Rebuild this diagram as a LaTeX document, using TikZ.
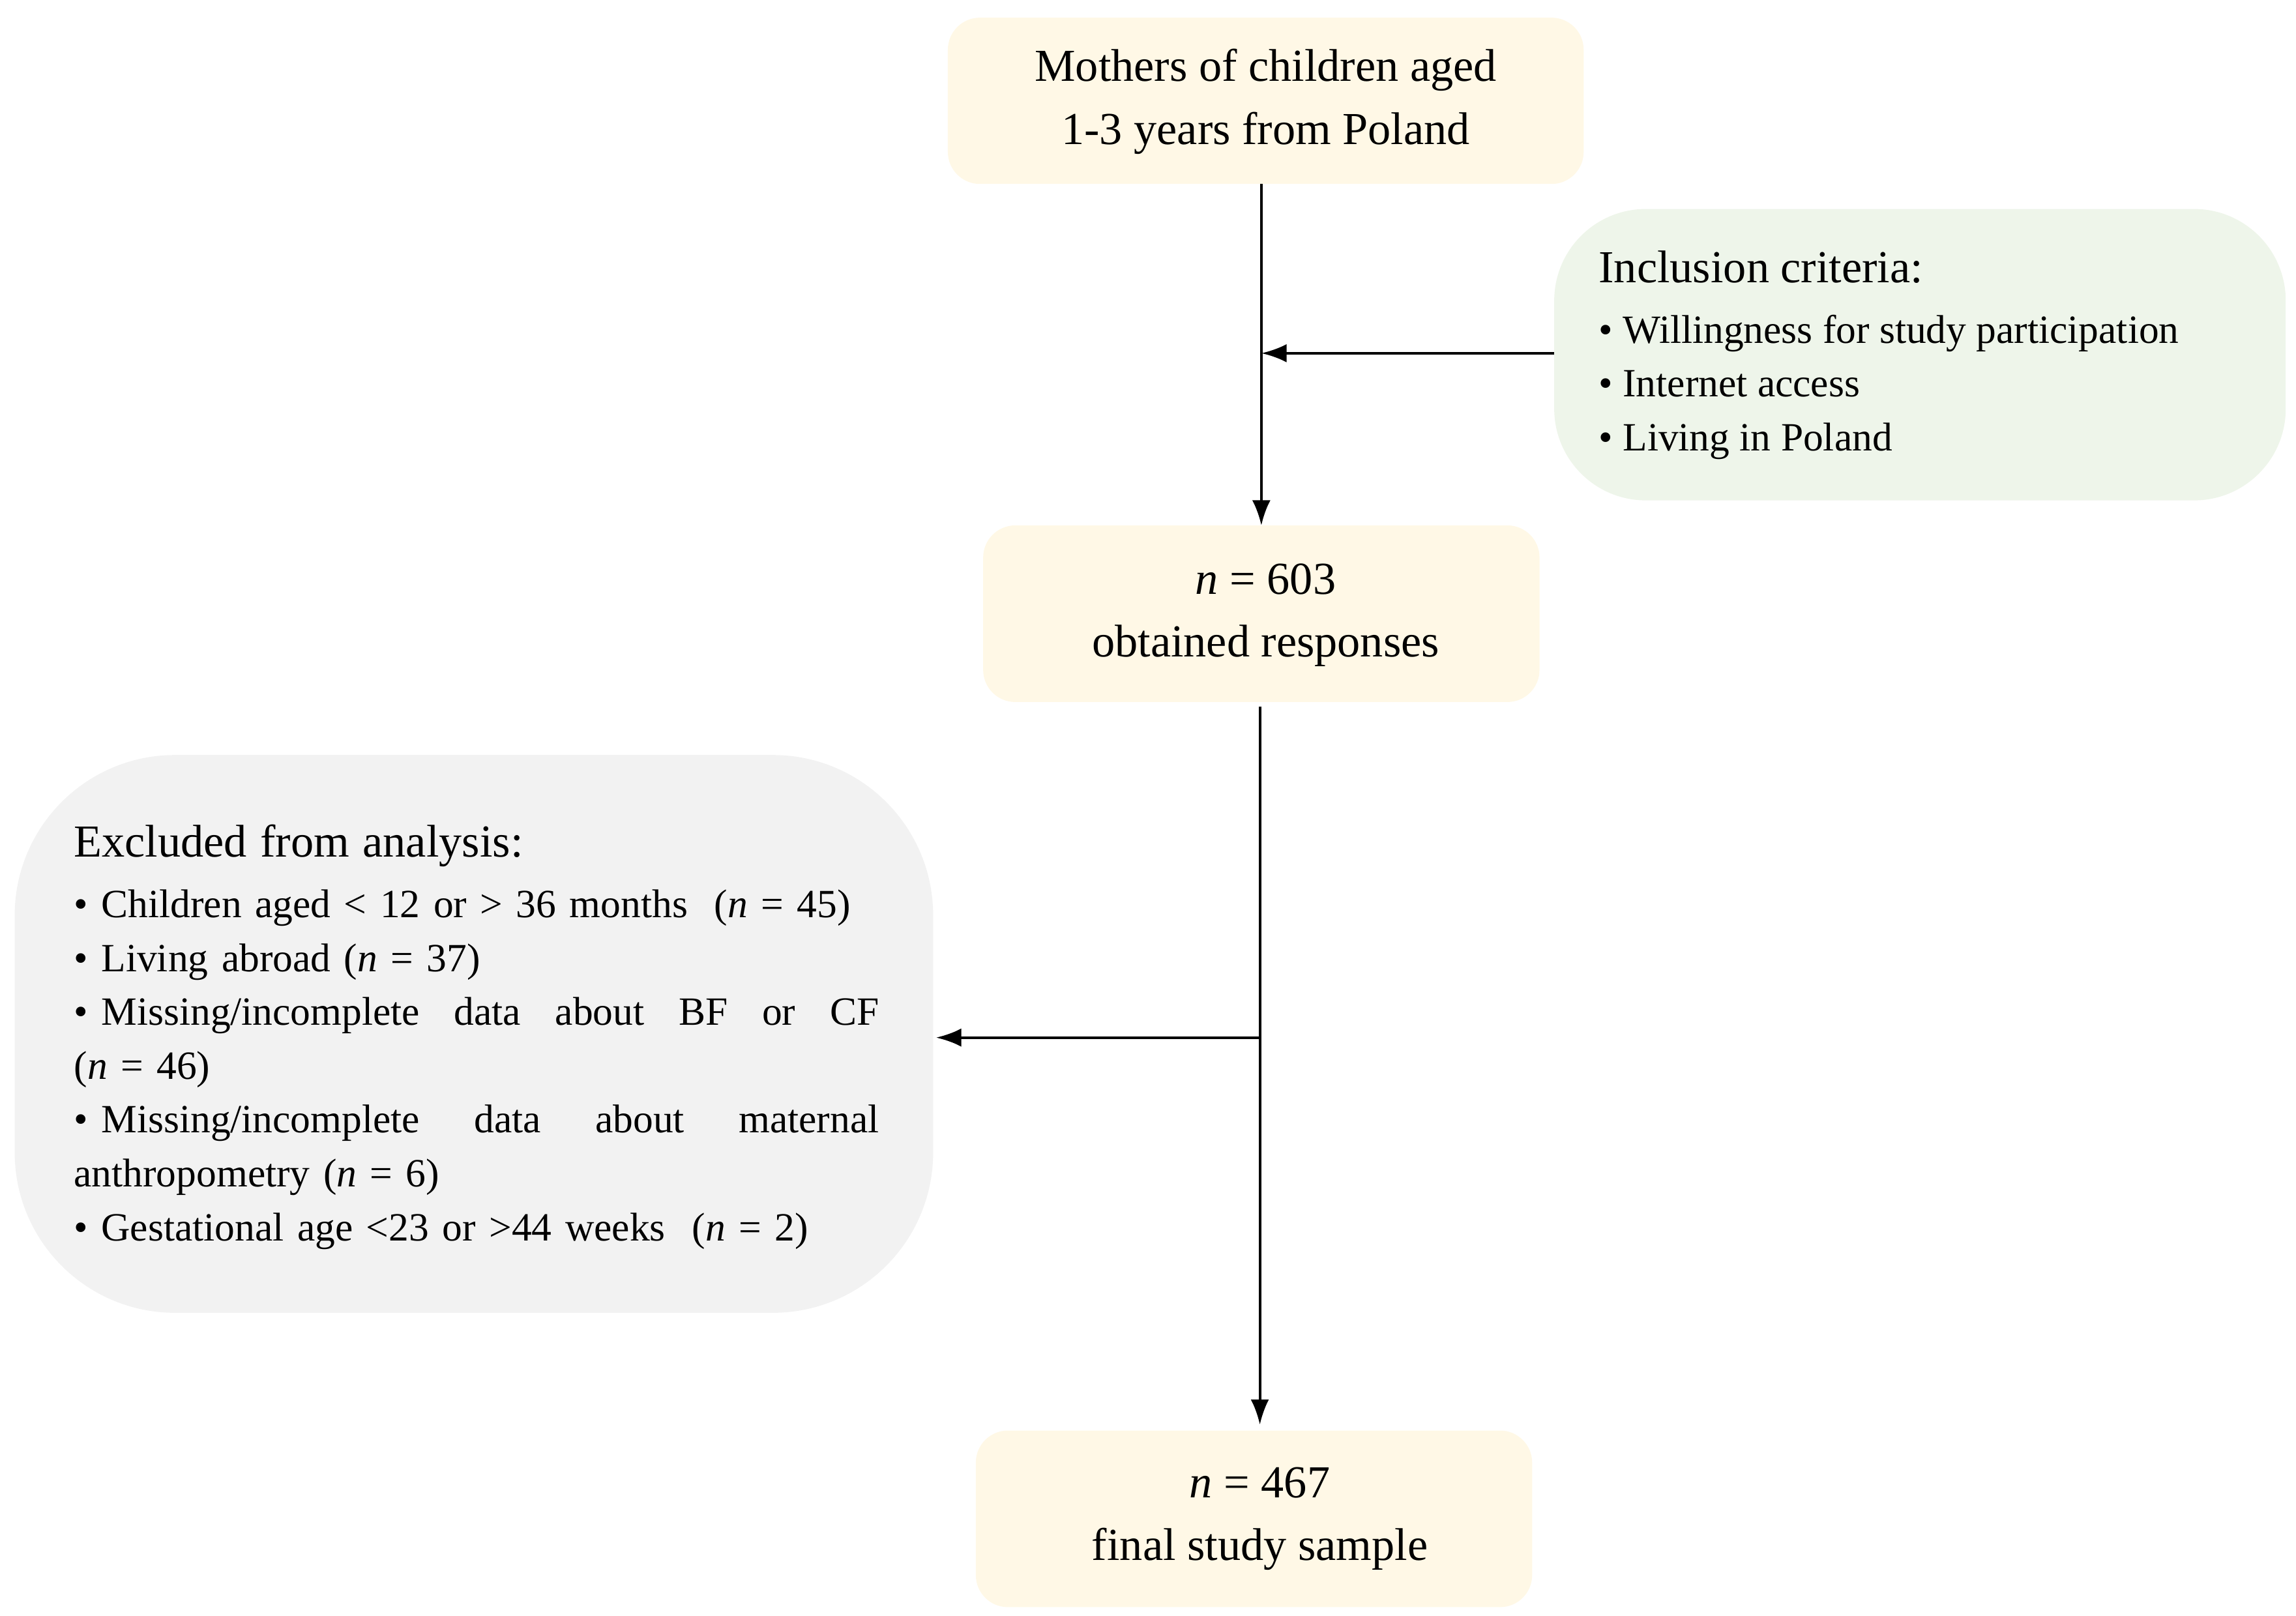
\documentclass[tikz,border=0pt]{standalone}
\usepackage{fontspec}
\setmainfont{Liberation Serif}
\usetikzlibrary{arrows.meta}
\definecolor{cream}{HTML}{FFF8E6}
\definecolor{lgreen}{HTML}{EEF5EA}
\definecolor{lgrey}{HTML}{F2F2F2}
\begin{document}
\begin{tikzpicture}[x=0.02258cm,y=-0.02258cm,
  box/.style={draw=none,rounded corners=12pt},
  arr/.style={-{Latex[length=11pt,width=8pt]},line width=1.2pt},
  main/.style={align=center,font=\fontsize{20}{27.5}\selectfont},
  lst/.style={align=left,anchor=north west,font=\fontsize{17.5}{23.5}\selectfont,inner sep=0pt}]
\useasboundingbox (0,0) rectangle (1560,1098);
\fill[cream,rounded corners=14pt] (644,12) rectangle (1076,125);
\node[main] (top) at (860,69) {Mothers of children aged\\1-3 years from Poland};
\coordinate (topb) at (857,125);
\fill[lgreen,rounded corners=40pt] (1056,142) rectangle (1553,340);
\coordinate (inc) at (1056,240);
\node[lst] (inctext) at (1086,170) {{\fontsize{20}{23.5}\selectfont Inclusion criteria:}\\[3pt]
\textbullet\ Willingness for study participation\\
\textbullet\ Internet access\\
\textbullet\ Living in Poland};
\fill[cream,rounded corners=14pt] (668,357) rectangle (1046,477);
\node[main] (n603) at (860,418) {\textit{n} = 603\\obtained responses};
\coordinate (n603t) at (857,357);
\coordinate (n603b) at (856,480);
\fill[lgrey,rounded corners=70pt] (10,513) rectangle (634,892);
\coordinate (exc) at (636,705);
\node[lst,text width=12.35cm] (exctext) at (50,560) {{\fontsize{20}{23.5}\selectfont Excluded from analysis:}\\[3pt]
\textbullet\ Children aged < 12 or > 36 months \ (\textit{n} = 45)\\
\textbullet\ Living abroad (\textit{n} = 37)\\
\hbox to\linewidth{\textbullet\ Missing/incomplete\hfill data\hfill about\hfill BF\hfill or\hfill CF}
(\textit{n} = 46)\\
\hbox to\linewidth{\textbullet\ Missing/incomplete\hfill data\hfill about\hfill maternal}
anthropometry (\textit{n} = 6)\\
\textbullet\ Gestational age <23 or >44 weeks \ (\textit{n} = 2)};
\fill[cream,rounded corners=14pt] (663,972) rectangle (1041,1092);
\node[main] (final) at (856,1032) {\textit{n} = 467\\final study sample};
\coordinate (finalt) at (856,968);
\draw[arr] (topb) -- (n603t);
\draw[arr] (inc) -- (857,240);
\draw[arr] (n603b) -- (finalt);
\draw[arr] (856,705) -- (exc);
\end{tikzpicture}
\end{document}
